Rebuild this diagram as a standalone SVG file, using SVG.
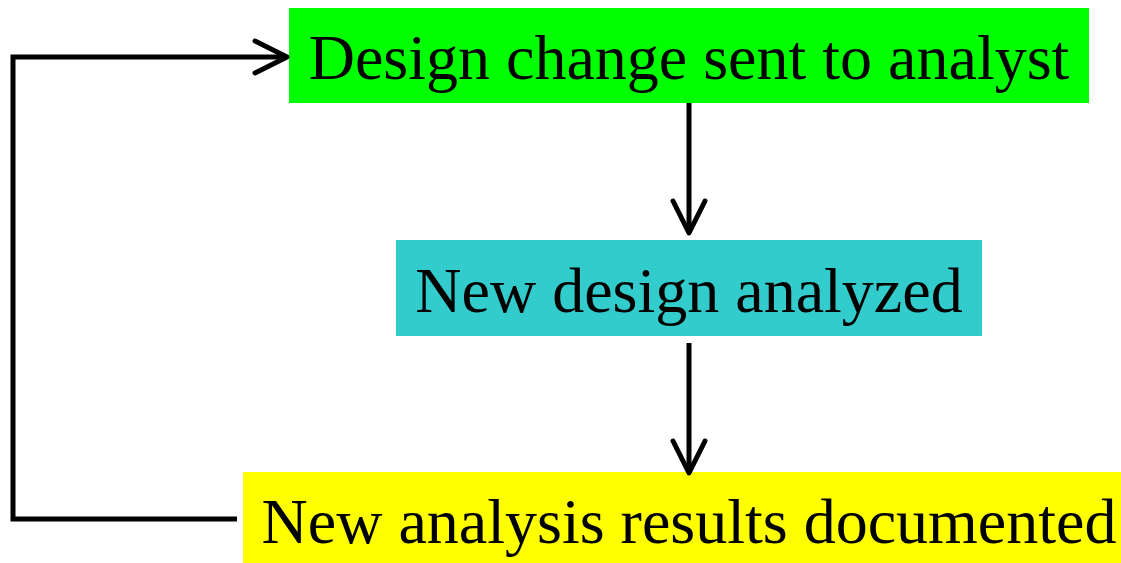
<svg xmlns="http://www.w3.org/2000/svg" width="1121" height="563" viewBox="0 0 1121 563">
  <style>
    .label { font-family: "Liberation Serif", "Times New Roman", serif; font-size: 64px; fill: #000; text-anchor: middle; }
    .conn { fill: none; stroke: #000; stroke-width: 5; stroke-linejoin: miter; }
  </style>
  <defs>
    <marker id="arrow" markerUnits="userSpaceOnUse" markerWidth="50" markerHeight="50" viewBox="-40 -25 50 50" refX="0" refY="0" orient="auto" overflow="visible">
      <path d="M-32,-16 L0,0 L-32,16" fill="none" stroke="#000" stroke-width="5" stroke-linecap="round" stroke-linejoin="round"/>
    </marker>
  </defs>
  <rect width="1121" height="563" fill="#fff"/>
  <g id="node-design-change">
    <rect x="289" y="8" width="800" height="95" fill="#00ff00"/>
    <text class="label" x="689" y="79">Design change sent to analyst</text>
  </g>
  <g id="node-new-design">
    <rect x="396" y="240" width="586" height="96" fill="#33cccc"/>
    <text class="label" x="689" y="311.5">New design analyzed</text>
  </g>
  <g id="node-results">
    <rect x="243" y="472" width="878" height="91" fill="#ffff00"/>
    <text class="label" x="689" y="543">New analysis results documented</text>
  </g>
  <g id="connectors">
    <path class="conn" d="M689,103 L689,233" marker-end="url(#arrow)"/>
    <path class="conn" d="M689,343 L689,473" marker-end="url(#arrow)"/>
    <path class="conn" d="M237,519 L13,519 L13,57 L287,57" marker-end="url(#arrow)"/>
  </g>
</svg>
